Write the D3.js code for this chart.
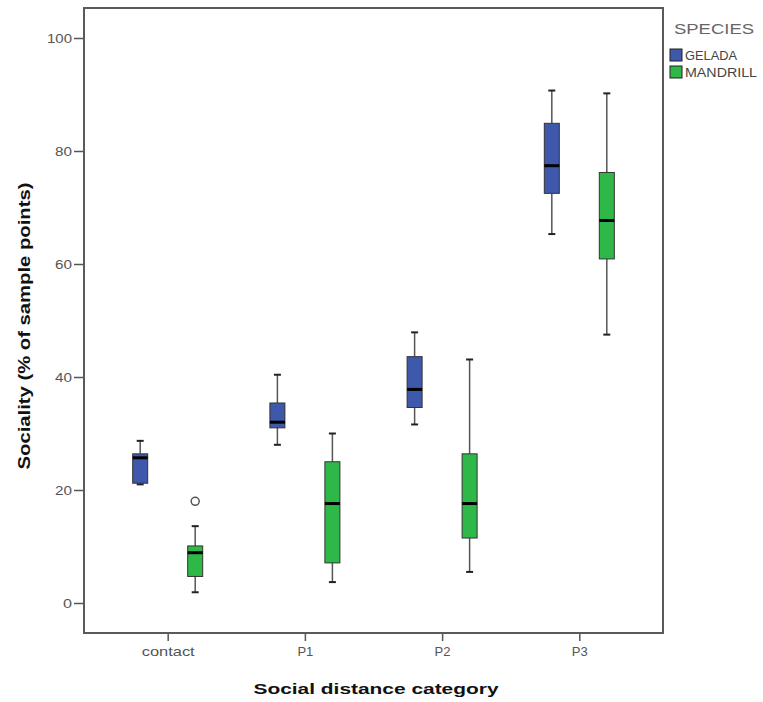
<!DOCTYPE html>
<html><head><meta charset="utf-8">
<script src="https://cdn.jsdelivr.net/npm/d3@7"></script>
<style>body{margin:0;background:#fff}svg{display:block}</style>
</head><body>
<svg id="chart" width="763" height="702"></svg>
<script>
const categories = ["contact", "P1", "P2", "P3"];
const species = ["GELADA", "MANDRILL"];
const yTicks = [0, 20, 40, 60, 80, 100];
// per category: whisker low, Q1, median, Q3, whisker high
const geladaLow    = [21.0, 28.0, 31.6, 65.3];
const geladaQ1     = [21.2, 31.0, 34.6, 72.5];
const geladaMedian = [25.7, 32.0, 37.8, 77.4];
const geladaQ3     = [26.4, 35.4, 43.6, 84.9];
const geladaHigh   = [28.7, 40.4, 47.9, 90.7];
const mandrillLow    = [1.9, 3.7, 5.5, 47.5];
const mandrillQ1     = [4.7, 7.1, 11.5, 60.9];
const mandrillMedian = [8.9, 17.6, 17.6, 67.7];
const mandrillQ3     = [10.1, 25.0, 26.4, 76.2];
const mandrillHigh   = [13.6, 30.0, 43.1, 90.2];
const mandrillOutliers = [[18.0], [], [], []];
const geladaOutliers = [[], [], [], []];
const colors = ["#3E58AC", "#2EB848"];

const rows = [];
categories.forEach((c, i) => {
  rows.push({cat: c, sp: "GELADA", low: geladaLow[i], q1: geladaQ1[i], med: geladaMedian[i], q3: geladaQ3[i], high: geladaHigh[i], out: geladaOutliers[i]});
  rows.push({cat: c, sp: "MANDRILL", low: mandrillLow[i], q1: mandrillQ1[i], med: mandrillMedian[i], q3: mandrillQ3[i], high: mandrillHigh[i], out: mandrillOutliers[i]});
});

const svg = d3.select("#chart");
const L = 84, R = 663, T = 8, B = 633;
const x = d3.scalePoint().domain(categories).range([L, R]).padding(0.61);
const xs = d3.scaleBand().domain(species).range([-55, 55]);
const y = d3.scaleLinear().domain([0, 100]).range([603, 38]);
const color = d3.scaleOrdinal().domain(species).range(colors);
const bw = 15, cap = 7;

// axes
const yAxis = svg.append("g").attr("transform", `translate(${L},0)`)
  .call(d3.axisLeft(y).tickValues(yTicks).tickSize(10).tickPadding(2));
const xAxis = svg.append("g").attr("transform", `translate(0,${B})`)
  .call(d3.axisBottom(x).tickSize(8).tickPadding(6));
[yAxis, xAxis].forEach(g => {
  g.select(".domain").remove();
  g.selectAll(".tick line").attr("stroke", "#555").attr("stroke-width", 1.5);
  g.selectAll(".tick text").attr("fill", "#555").style("font-family", "Liberation Sans, Arial, sans-serif").style("font-size", "13px");
});
yAxis.selectAll(".tick text").attr("textLength", d => d === 100 ? 25 : (d === 0 ? 9 : 17)).attr("lengthAdjust", "spacingAndGlyphs");
xAxis.selectAll(".tick text").attr("textLength", d => d === "contact" ? 53 : 16).attr("lengthAdjust", "spacingAndGlyphs");

// frame
svg.append("rect").attr("x", L).attr("y", T).attr("width", R - L).attr("height", B - T)
  .attr("fill", "none").attr("stroke", "#5a5a5a").attr("stroke-width", 2);

// boxes
const g = svg.append("g").selectAll("g").data(rows).join("g")
  .attr("transform", d => `translate(${x(d.cat) + xs(d.sp) + xs.bandwidth() / 2},0)`);
g.append("line").attr("x1", 0).attr("x2", 0).attr("y1", d => y(d.high)).attr("y2", d => y(d.q3))
  .attr("stroke", "#555").attr("stroke-width", 1.5);
g.append("line").attr("x1", 0).attr("x2", 0).attr("y1", d => y(d.q1)).attr("y2", d => y(d.low))
  .attr("stroke", "#555").attr("stroke-width", 1.5);
g.append("line").attr("x1", -cap / 2).attr("x2", cap / 2).attr("y1", d => y(d.high)).attr("y2", d => y(d.high))
  .attr("stroke", "#222").attr("stroke-width", 2);
g.append("line").attr("x1", -cap / 2).attr("x2", cap / 2).attr("y1", d => y(d.low)).attr("y2", d => y(d.low))
  .attr("stroke", "#222").attr("stroke-width", 2);
g.append("rect").attr("x", -bw / 2).attr("width", bw)
  .attr("y", d => y(d.q3)).attr("height", d => y(d.q1) - y(d.q3))
  .attr("fill", d => color(d.sp)).attr("stroke", "#333").attr("stroke-width", 1);
g.append("line").attr("x1", -bw / 2).attr("x2", bw / 2).attr("y1", d => y(d.med)).attr("y2", d => y(d.med))
  .attr("stroke", "#000").attr("stroke-width", 3);
g.selectAll("circle").data(d => d.out).join("circle")
  .attr("cx", 0).attr("cy", v => y(v)).attr("r", 4)
  .attr("fill", "#fff").attr("stroke", "#555").attr("stroke-width", 1.5);

// axis titles
svg.append("text").attr("x", 376).attr("y", 694).attr("text-anchor", "middle")
  .style("font-family", "Liberation Sans, Arial, sans-serif").style("font-size", "15px").style("font-weight", "bold")
  .attr("fill", "#111").attr("textLength", 245).attr("lengthAdjust", "spacingAndGlyphs")
  .text("Social distance category");
svg.append("text").attr("transform", "translate(30,326) rotate(-90)").attr("text-anchor", "middle")
  .style("font-family", "Liberation Sans, Arial, sans-serif").style("font-size", "16px").style("font-weight", "bold")
  .attr("fill", "#111").attr("textLength", 287).attr("lengthAdjust", "spacingAndGlyphs")
  .text("Sociality (% of sample points)");

// legend
svg.append("text").attr("x", 674).attr("y", 34)
  .style("font-family", "Liberation Sans, Arial, sans-serif").style("font-size", "15px")
  .attr("fill", "#666").attr("textLength", 80).attr("lengthAdjust", "spacingAndGlyphs").text("SPECIES");
const lg = svg.append("g").selectAll("g").data(species).join("g")
  .attr("transform", (d, i) => `translate(670,${49 + i * 17})`);
lg.append("rect").attr("width", 12).attr("height", 12).attr("fill", d => color(d)).attr("stroke", "#222").attr("stroke-width", 1);
lg.append("text").attr("x", 15).attr("y", 10.5)
  .style("font-family", "Liberation Sans, Arial, sans-serif").style("font-size", "12px")
  .attr("fill", "#444").attr("textLength", d => d === "GELADA" ? 52 : 72).attr("lengthAdjust", "spacingAndGlyphs")
  .text(d => d);
</script>
</body></html>
